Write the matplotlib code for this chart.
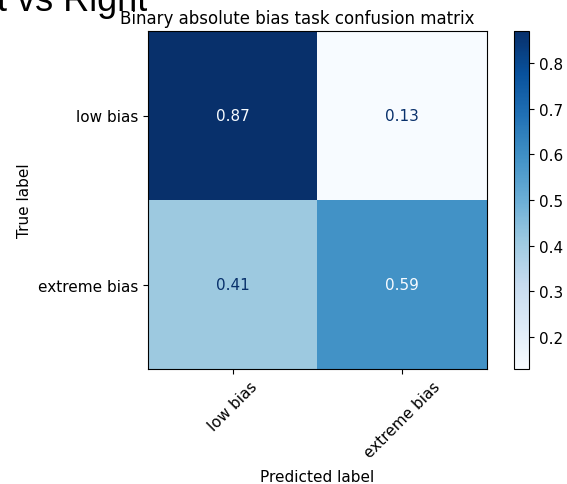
import numpy as np
import matplotlib
matplotlib.use("Agg")
import matplotlib.pyplot as plt

labels = ["low bias", "extreme bias"]
cm_values = [[0.87, 0.13],
             [0.41, 0.59]]
cbar_ticks = [0.2, 0.3, 0.4, 0.5, 0.6, 0.7, 0.8]

cm = np.array(cm_values)
plt.rcParams["font.size"] = 11

fig = plt.figure(figsize=(5.67, 4.85), dpi=100)
ax = fig.add_axes([148 / 567, (485 - 370) / 485, (487 - 148) / 567, 338 / 485])
cax = fig.add_axes([514 / 567, (485 - 370) / 485, 15 / 567, 338 / 485])

cmap = plt.get_cmap("Blues")
im = ax.imshow(cm, interpolation="nearest", cmap=cmap, aspect="auto")
cb = fig.colorbar(im, cax=cax)
cb.set_ticks(cbar_ticks)

# text colour like sklearn: dark on light cells, white on dark ones
thresh = (cm.max() + cm.min()) / 2.0
cmap_min, cmap_max = cmap(0), cmap(1.0)
for i in range(cm.shape[0]):
    for j in range(cm.shape[1]):
        color = cmap_min if cm[i, j] > thresh else cmap_max
        ax.text(j, i, f"{cm[i, j]:.2g}", ha="center", va="center", color=color, fontsize=11)

ax.set_xticks(range(len(labels)))
ax.set_yticks(range(len(labels)))
ax.set_xticklabels(labels, rotation=45)
ax.set_yticklabels(labels)
ax.set_xlabel("Predicted label", labelpad=6)
ax.set_ylabel("True label")
ax.set_title("Binary absolute bias task confusion matrix", fontsize=12, x=0.44)

# leftover heading from the cell above, cut at the top edge
fig.text(-0.005, 1 - 11 / 485, "t vs Right", fontsize=26, family="Liberation Sans",
         ha="left", va="baseline")

fig.savefig("out.png", dpi=100)
